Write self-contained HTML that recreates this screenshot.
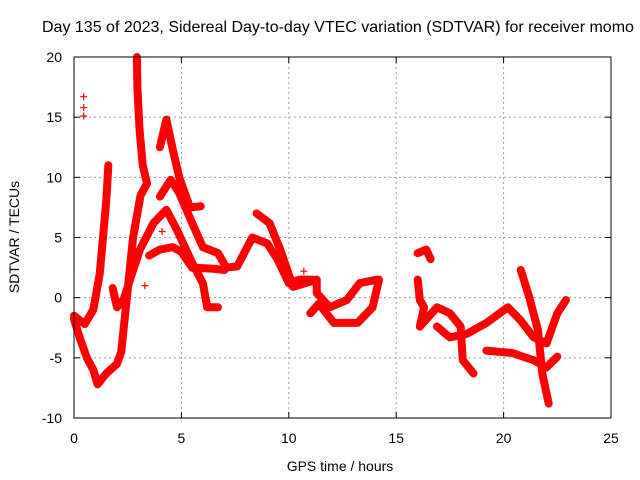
<!DOCTYPE html>
<html><head><meta charset="utf-8"><style>
html,body{margin:0;padding:0;background:#fff;overflow:hidden}
svg{display:block;font-family:"Liberation Sans",sans-serif}
</style></head><body>
<svg id="chart" width="640" height="480">
<text x="42" y="32" font-size="16">Day 135 of 2023, Sidereal Day-to-day VTEC variation (SDTVAR) for receiver momo</text>
<g id="grid"></g>
<g id="ticks"></g>
<g id="marks"></g>
<rect x="74" y="57" width="537" height="361" fill="none" stroke="#000" stroke-width="1"/>
<text x="340" y="471" font-size="14" text-anchor="middle">GPS time / hours</text>
<text transform="translate(19,237) rotate(-90)" font-size="14" text-anchor="middle">SDTVAR / TECUs</text>
</svg>
<script>
const xTicks = [0,5,10,15,20,25];
const yTicks = [-10,-5,0,5,10,15,20];
const trackA = [[0,-1.8],[0.3,-3.5],[0.6,-5],[0.9,-6],[1.1,-7.2],[1.5,-6.3],[2.0,-5.5],[2.2,-4.5],[2.45,-0.2],[2.75,5],[3.1,8.5],[3.4,9.5],[3.2,11],[3.05,14],[2.95,17.5],[2.93,20]];
const trackB = [[0,-1.5],[0.5,-2.2],[0.9,-1],[1.2,2],[1.4,6],[1.5,8],[1.6,11]];
const trackC = [[1.8,0.8],[2.0,-0.8],[2.3,-0.2],[2.7,2],[3.07,4],[3.7,6.2],[4.3,7.3],[4.8,5.6],[5.5,2.9],[6.0,1.2],[6.2,-0.8],[6.7,-0.8]];
const trackD = [[4.0,8.4],[4.5,9.8],[4.9,8.7],[5.5,6.2],[6.0,4.2],[6.7,3.7],[7.1,2.5],[7.6,2.6],[8.3,5],[9.0,4.5],[9.5,3.1],[10.0,1.2],[10.5,1.5],[11.1,1.5]];
const trackE = [[4.0,12.5],[4.3,14.8],[4.6,12.3],[4.9,10],[5.4,7.5],[5.9,7.6]];
const trackF = [[3.5,3.5],[4.0,4],[4.6,4.2],[5.0,3.8],[5.5,2.5],[6.5,2.4],[7.0,2.3]];
const trackG = [[8.5,7],[9.1,6.2],[9.6,4],[10.2,0.9],[11.3,1.5],[11.3,0.4],[11.9,-0.8],[12.7,-0.2],[13.3,1.2],[14.1,1.5]];
const trackH = [[11.0,-1.3],[11.4,-0.5],[12.1,-2.1],[13.2,-2.1],[13.9,-0.8],[14.2,1.5]];
const trackI = [[16.0,3.7],[16.4,4],[16.6,3.2]];
const trackJ = [[16.0,1.5],[16.1,-0.2],[16.3,-0.8],[16.1,-2.4],[16.9,-0.8],[17.5,-1.3],[18.0,-2.4],[18.1,-5.2],[18.6,-6.3]];
const trackK = [[16.9,-2.4],[17.5,-3.3],[18.3,-3],[19.2,-2.1],[20.2,-0.8],[20.8,-1.9],[21.4,-3.3],[22.0,-3.8],[22.5,-1.3],[22.9,-0.2]];
const trackL = [[20.8,2.3],[21.2,0],[21.6,-2.7],[21.8,-6.3],[22.1,-8.8]];
const trackM = [[19.2,-4.4],[20.4,-4.6],[21.4,-5.2],[22.0,-5.8],[22.5,-4.9]];
const outliers = [[0.45,16.7],[0.45,15.8],[0.45,15.1],[10.7,2.2],[3.3,1],[4.1,5.5]];
const tracks = [trackA,trackB,trackC,trackD,trackE,trackF,trackG,trackH,trackI,trackJ,trackK,trackL,trackM];

const X = v => 74 + (v - 0) / 25 * 537;
const Y = v => 418 - (v + 10) / 30 * 361;
const NS = 'http://www.w3.org/2000/svg';
const grid = document.getElementById('grid');
const ticks = document.getElementById('ticks');
const marks = document.getElementById('marks');
function mk(tag, attrs, parent){const e=document.createElementNS(NS,tag);for(const k in attrs)e.setAttribute(k,attrs[k]);parent.appendChild(e);return e;}

xTicks.forEach(t=>{
  const x=X(t);
  if(t>0&&t<25){const g=mk('line',{x1:x,y1:57,x2:x,y2:418,stroke:'#a0a0a0','stroke-dasharray':'2,3'},grid);
  
  }
  mk('line',{x1:x,y1:418,x2:x,y2:412,stroke:'#000'},ticks);
  mk('line',{x1:x,y1:57,x2:x,y2:63,stroke:'#000'},ticks);
  const l=mk('text',{x:x,y:443,'font-size':14,'text-anchor':'middle'},ticks);
  l.textContent=t;
  
  
});
yTicks.forEach(t=>{
  const y=Y(t);
  if(t>-10&&t<20){const g=mk('line',{x1:74,y1:y,x2:611,y2:y,stroke:'#a0a0a0','stroke-dasharray':'2,3'},grid);
  
  }
  mk('line',{x1:74,y1:y,x2:80,y2:y,stroke:'#000'},ticks);
  mk('line',{x1:611,y1:y,x2:605,y2:y,stroke:'#000'},ticks);
  const l=mk('text',{x:62,y:y+5,'font-size':14,'text-anchor':'end'},ticks);
  l.textContent=t;
  
  
});
function plus(x,y){
  const p=mk('path',{d:`M${x-3.5},${y}h7M${x},${y-3.5}v7`,stroke:'#f00','stroke-width':1.2,fill:'none'},marks);
  
  
}
tracks.forEach(tr=>{
  const pl=mk('polyline',{points:tr.map(p=>X(p[0])+','+Y(p[1])).join(' '),fill:'none',stroke:'#f00','stroke-width':8,'stroke-linejoin':'round','stroke-linecap':'round'},marks);
  
  
  tr.forEach(p=>plus(X(p[0]),Y(p[1])));
});
outliers.forEach(p=>plus(X(p[0]),Y(p[1])));
</script>
</body></html>
